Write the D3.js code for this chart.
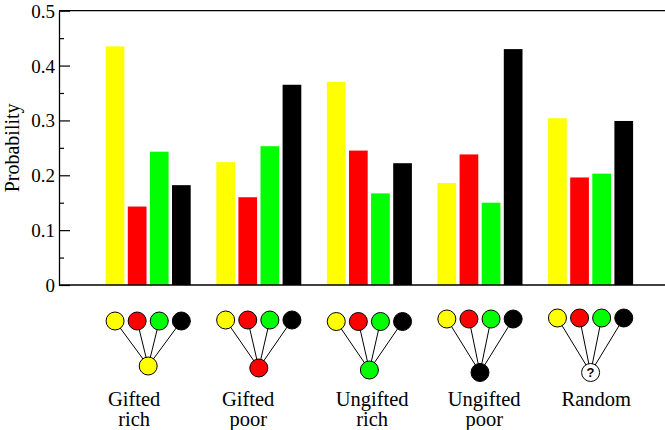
<!DOCTYPE html>
<html>
<head>
<meta charset="utf-8">
<script src="https://cdn.jsdelivr.net/npm/d3@7"></script>
<style>
html,body{margin:0;padding:0;background:#fff;}
svg{display:block;}
</style>
</head>
<body>
<svg id="chart" width="665" height="430"></svg>
<script>
// ---- data ----
const groups = ["Gifted rich", "Gifted poor", "Ungifted rich", "Ungifted poor", "Random"];
const groupLabels = [["Gifted", "rich"], ["Gifted", "poor"], ["Ungifted", "rich"], ["Ungifted", "poor"], ["Random"]];
const seriesNames = ["yellow", "red", "green", "black"];
const yellowValues = [0.435, 0.224, 0.370, 0.186, 0.304];
const redValues    = [0.143, 0.160, 0.245, 0.238, 0.196];
const greenValues  = [0.243, 0.253, 0.167, 0.150, 0.203];
const blackValues  = [0.182, 0.365, 0.222, 0.430, 0.299];
const iconTarget   = ["yellow", "red", "green", "black", "random"];
const yTicks = [0, 0.1, 0.2, 0.3, 0.4, 0.5];
const yTickLabels = ["0", "0.1", "0.2", "0.3", "0.4", "0.5"];
const yMinorTicks = [0.05, 0.15, 0.25, 0.35, 0.45];

// ---- layout / style ----
const colors = {yellow: "#ffff00", red: "#ff0000", green: "#00ff00", black: "#000000", random: "#ffffff"};
const seriesValues = [yellowValues, redValues, greenValues, blackValues];
const plotLeft = 59, plotRight = 665, plotTop = 10.7, plotBottom = 285;
const labelNudge = [-14, -10.6, 2.8, 4.2, 5.6];
const iconTopY = [321, 320, 321.5, 319, 318];
const iconBottomY = [366, 368, 370, 372.5, 372.5];

const svg = d3.select("#chart");
const y = d3.scaleLinear().domain([0, 0.5]).range([plotBottom, plotTop]);
const x0 = d3.scaleBand().domain(groups).range([105.7, 105.7 + 5 * 110.6]).padding(0);
const x1 = d3.scaleBand().domain(seriesNames).range([0, 85]).paddingInner(0.154).paddingOuter(0);

// bars
groups.forEach((g, gi) => {
  seriesNames.forEach((s, si) => {
    const v = seriesValues[si][gi];
    svg.append("rect")
      .attr("x", x0(g) + x1(s))
      .attr("y", y(v))
      .attr("width", x1.bandwidth())
      .attr("height", y(0) - y(v))
      .attr("fill", colors[s]);
  });
});

// frame lines
svg.append("line").attr("x1", plotLeft).attr("x2", plotRight).attr("y1", plotTop).attr("y2", plotTop)
  .attr("stroke", "#000").attr("stroke-width", 1.3);
svg.append("line").attr("x1", plotLeft).attr("x2", plotRight).attr("y1", plotBottom).attr("y2", plotBottom)
  .attr("stroke", "#000").attr("stroke-width", 1.3);

// y axis (ticks inward)
const yAxis = d3.axisRight(y).tickValues(yTicks).tickFormat((d, i) => yTickLabels[i]).tickSize(11).tickSizeOuter(0);
const ga = svg.append("g").attr("transform", `translate(${plotLeft},0)`).call(yAxis);
ga.select(".domain").attr("stroke-width", 1.3);
ga.selectAll(".tick line").attr("stroke-width", 1.2);
ga.selectAll(".tick text")
  .attr("x", -4).attr("text-anchor", "end").attr("dy", "0.34em")
  .attr("font-family", "Liberation Serif").attr("font-size", 19).attr("fill", "#000");

const yMinor = d3.axisRight(y).tickValues(yMinorTicks).tickFormat("").tickSize(5).tickSizeOuter(0);
const gm = svg.append("g").attr("transform", `translate(${plotLeft},0)`).call(yMinor);
gm.select(".domain").remove();
gm.selectAll(".tick line").attr("stroke-width", 1.2);

// y label
svg.append("text")
  .attr("transform", `translate(18.5,${(plotTop + plotBottom) / 2}) rotate(-90)`)
  .attr("text-anchor", "middle")
  .attr("font-family", "Liberation Serif").attr("font-size", 20)
  .text("Probability");

// icons
groups.forEach((g, gi) => {
  const gx = x0(g) + 42.5;
  const ty = iconTopY[gi], by = iconBottomY[gi];
  const ig = svg.append("g");
  seriesNames.forEach(s => {
    ig.append("line")
      .attr("x1", x0(g) + x1(s) + x1.bandwidth() / 2).attr("y1", ty)
      .attr("x2", gx).attr("y2", by)
      .attr("stroke", "#000").attr("stroke-width", 1);
  });
  seriesNames.forEach(s => {
    ig.append("circle")
      .attr("cx", x0(g) + x1(s) + x1.bandwidth() / 2).attr("cy", ty).attr("r", 9)
      .attr("fill", colors[s]).attr("stroke", "#000").attr("stroke-width", 1);
  });
  ig.append("circle")
    .attr("cx", gx).attr("cy", by).attr("r", 9)
    .attr("fill", colors[iconTarget[gi]]).attr("stroke", "#000").attr("stroke-width", 1);
  if (iconTarget[gi] === "random") {
    ig.append("text").attr("x", gx).attr("y", by).attr("dy", "0.36em")
      .attr("text-anchor", "middle").attr("font-family", "Liberation Sans")
      .attr("font-weight", "bold").attr("font-size", 13).text("?");
  }
  // label
  const lx = gx + labelNudge[gi];
  groupLabels[gi].forEach((line, li) => {
    svg.append("text")
      .attr("x", lx).attr("y", 405.5 + li * 20.5)
      .attr("text-anchor", "middle")
      .attr("font-family", "Liberation Serif").attr("font-size", 20.5)
      .text(line);
  });
});
</script>
</body>
</html>
